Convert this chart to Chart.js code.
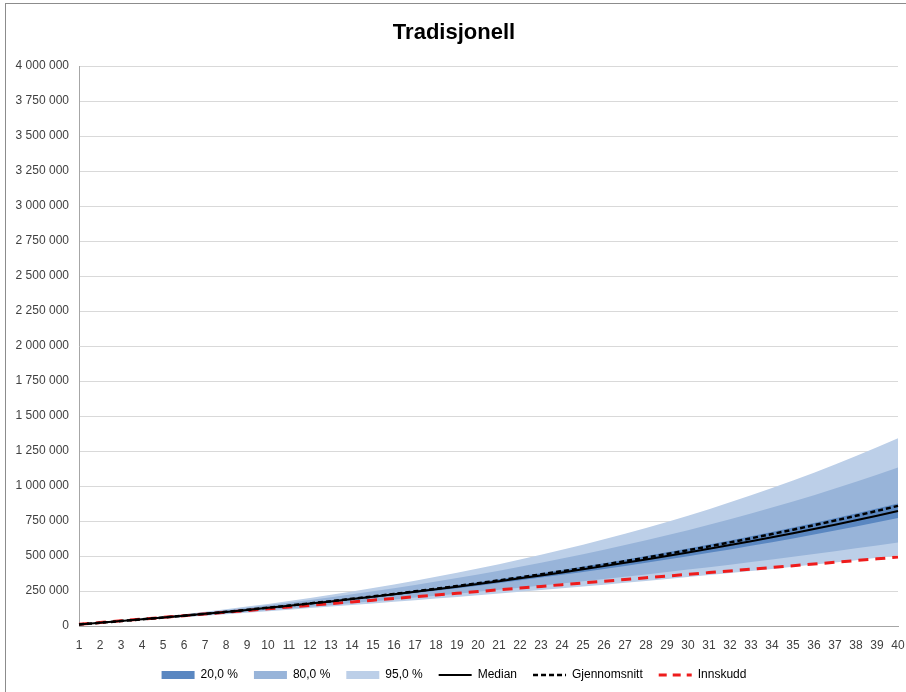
<!DOCTYPE html>
<html>
<head>
<meta charset="utf-8">
<script src="https://cdn.jsdelivr.net/npm/chart.js@4/dist/chart.umd.min.js"></script>
<style>
  html, body { margin: 0; padding: 0; background: #fff; }
  #wrap { position: relative; width: 906px; height: 692px; }
  #frame { position: absolute; left: 5px; top: 3px; width: 901px; height: 689px;
           border-left: 1px solid #8c8c8c; border-top: 1px solid #8c8c8c; pointer-events: none; }
</style>
</head>
<body>
<div id="wrap">
  <canvas id="grafico" width="906" height="692"></canvas>
  <div id="frame"></div>
</div>
<script>
// år
const years = ['1','2','3','4','5','6','7','8','9','10','11','12','13','14','15','16','17','18','19','20',
  '21','22','23','24','25','26','27','28','29','30','31','32','33','34','35','36','37','38','39','40'];

const median = [11400, 23100, 35200, 47600, 60300, 73400, 86800, 100700, 114900, 129500,
  144500, 160000, 175800, 192200, 208900, 226200, 243900, 262200, 280900, 300200,
  320000, 340300, 361300, 382800, 404900, 427600, 451000, 475000, 499700, 525100,
  551200, 578100, 605600, 634000, 663200, 693100, 723900, 755600, 788200, 821600];

const gjennomsnitt = [11400, 23100, 35300, 47700, 60500, 73700, 87200, 101300, 115600, 130400,
  145700, 161500, 177600, 194400, 211500, 229200, 247400, 266300, 285600, 305600,
  326100, 347200, 369100, 391500, 414600, 438400, 463000, 488200, 514200, 541100,
  568700, 597300, 626600, 656700, 687900, 719900, 753000, 787000, 822100, 858100];

const innskudd = [12300, 24600, 36900, 49200, 61500, 73800, 86100, 98400, 110700, 123000,
  135300, 147600, 159900, 172200, 184500, 196800, 209100, 221400, 233700, 246000,
  258300, 270600, 282900, 295200, 307500, 319800, 332100, 344400, 356700, 369000,
  381300, 393600, 405900, 418200, 430500, 442800, 455100, 467400, 479700, 492000];

// 20 % band (40-60 persentil)
const p40 = [11300, 22900, 34800, 46900, 59300, 72100, 85000, 98500, 112200, 126200,
  140600, 155400, 170500, 186100, 202000, 218400, 235200, 252500, 270200, 288300,
  307000, 326000, 345700, 365800, 386500, 407600, 429400, 451800, 474700, 498300,
  522400, 547300, 572700, 598900, 625800, 653300, 681700, 710700, 740700, 771200];
const p60 = [11500, 23300, 35600, 48300, 61300, 74800, 88600, 103000, 117700, 132900,
  148500, 164700, 181300, 198400, 216000, 234200, 252900, 272200, 292100, 312500,
  333600, 355200, 377600, 400600, 424200, 448600, 473600, 499400, 526000, 553300,
  581600, 610600, 640400, 671200, 702800, 735300, 768800, 803300, 838800, 875300];

// 80 % band (10-90 persentil)
const p10 = [11100, 22100, 33200, 44300, 55500, 66900, 78300, 90000, 101800, 113700,
  125800, 138200, 150700, 163500, 176400, 189600, 203000, 216700, 230600, 244800,
  259300, 273900, 288900, 304300, 319800, 335700, 352000, 368600, 385400, 402800,
  420300, 438300, 456600, 475400, 494500, 514000, 534000, 554500, 575300, 596600];
const p90 = [11700, 24200, 37400, 51100, 65500, 80600, 96200, 112700, 129700, 147500,
  165900, 185200, 205100, 225900, 247400, 269900, 293000, 317200, 342100, 368100,
  394900, 422800, 451800, 481600, 512600, 544600, 577800, 612200, 647800, 684600,
  722800, 762500, 803300, 845600, 889400, 934600, 981400, 1029700, 1079800, 1131400];

// 95 % band (2,5-97,5 persentil)
const p025 = [10900, 21500, 32100, 42600, 53100, 63600, 74100, 84800, 95400, 106100,
  116900, 127900, 138800, 150100, 161300, 172600, 184100, 195900, 207700, 219700,
  231900, 244100, 256600, 269300, 282200, 295200, 308600, 322100, 335800, 349800,
  364000, 378300, 392900, 408000, 423200, 438600, 454300, 470400, 486800, 503300];
const p975 = [11900, 24800, 38600, 53100, 68500, 84700, 101600, 119600, 138400, 158000,
  178600, 200200, 222600, 246200, 270600, 296400, 323100, 351000, 379900, 410300,
  441700, 474400, 508700, 544100, 580900, 619300, 659200, 700500, 743600, 788300,
  834800, 883400, 933400, 985200, 1039300, 1095400, 1153500, 1213700, 1276300, 1341100];

const mork = '#5a87c1';
const middels = '#98b4d9';
const lys = '#bccfe8';
const rod = '#ee1c1c';

function tall(v) {
  return String(v).replace(/\B(?=(\d{3})+(?!\d))/g, ' ');
}

const ctx = document.getElementById('grafico').getContext('2d');
const grafico = new Chart(ctx, {
  type: 'line',
  data: {
    labels: years,
    datasets: [
      { label: 'Median', data: median, borderColor: '#000', borderWidth: 2, fill: false },
      { label: 'Gjennomsnitt', data: gjennomsnitt, borderColor: '#000', borderWidth: 2.5, borderDash: [5, 3], fill: false },
      { label: 'Innskudd', data: innskudd, borderColor: rod, borderWidth: 3, borderDash: [10, 7], fill: false },
      { label: '', data: p40, borderWidth: 0, borderColor: 'rgba(0,0,0,0)', fill: false },
      { label: '20,0 %', data: p60, borderWidth: 0, borderColor: 'rgba(0,0,0,0)', backgroundColor: mork, fill: 3 },
      { label: '', data: p10, borderWidth: 0, borderColor: 'rgba(0,0,0,0)', fill: false },
      { label: '80,0 %', data: p90, borderWidth: 0, borderColor: 'rgba(0,0,0,0)', backgroundColor: middels, fill: 5 },
      { label: '', data: p025, borderWidth: 0, borderColor: 'rgba(0,0,0,0)', fill: false },
      { label: '95,0 %', data: p975, borderWidth: 0, borderColor: 'rgba(0,0,0,0)', backgroundColor: lys, fill: 7 }
    ]
  },
  options: {
    responsive: false,
    animation: false,
    elements: { point: { radius: 0 }, line: { tension: 0 } },
    layout: { padding: { left: 10, right: 8, top: 0, bottom: 1 } },
    plugins: {
      title: {
        display: true,
        text: 'Tradisjonell',
        color: '#000',
        font: { family: 'Liberation Sans', size: 22, weight: 'bold' },
        padding: { top: 20, bottom: 19.6 }
      },
      tooltip: { enabled: false },
      legend: {
        position: 'bottom',
        labels: {
          usePointStyle: true,
          pointStyleWidth: 33,
          boxHeight: 8,
          padding: 16,
          color: '#404040',
          font: { family: 'Liberation Sans', size: 12 },
          generateLabels: () => [
            { text: '20,0 %', fillStyle: mork, strokeStyle: mork, lineWidth: 0, pointStyle: 'rect' },
            { text: '80,0 %', fillStyle: middels, strokeStyle: middels, lineWidth: 0, pointStyle: 'rect' },
            { text: '95,0 %', fillStyle: lys, strokeStyle: lys, lineWidth: 0, pointStyle: 'rect' },
            { text: 'Median', fillStyle: '#000', strokeStyle: '#000', lineWidth: 2, lineDash: [], pointStyle: 'line' },
            { text: 'Gjennomsnitt', fillStyle: '#000', strokeStyle: '#000', lineWidth: 2.5, lineDash: [5, 3], pointStyle: 'line' },
            { text: 'Innskudd', fillStyle: rod, strokeStyle: rod, lineWidth: 3, lineDash: [8, 6], pointStyle: 'line' }
          ]
        }
      }
    },
    scales: {
      x: {
        offset: false,
        grid: { display: false, drawTicks: false },
        border: { display: true, color: '#a6a6a6' },
        ticks: {
          autoSkip: false, maxRotation: 0, padding: 12.8,
          color: '#404040', font: { family: 'Liberation Sans', size: 12 }
        },
        afterFit: scale => {
          scale.height = 27;
          scale.paddingLeft = 0;
          scale.paddingRight = 0;
        }
      },
      y: {
        min: 0,
        max: 4000000,
        grid: { color: '#d9d9d9', drawTicks: false },
        border: { display: true, color: '#a6a6a6' },
        ticks: {
          stepSize: 250000, padding: 10,
          color: '#404040', font: { family: 'Liberation Sans', size: 12 },
          callback: v => tall(v)
        },
        afterFit: scale => { scale.width = 69; }
      }
    }
  }
});
</script>
</body>
</html>
